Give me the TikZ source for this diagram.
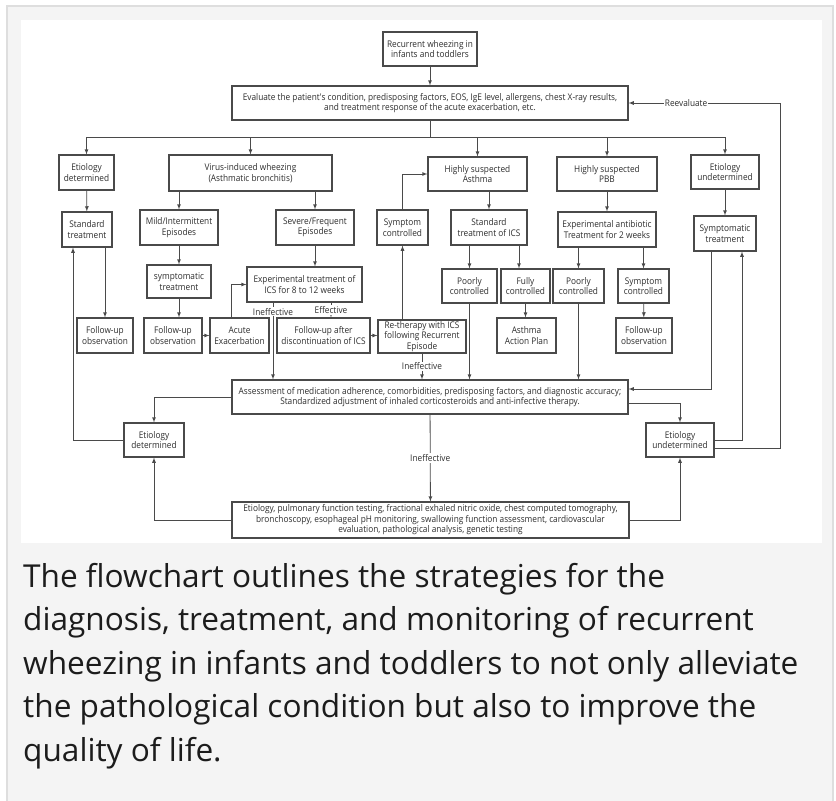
\documentclass[tikz,border=0pt]{standalone}
\usepackage{fontspec}
\setmainfont{Open Sans}
\newfontfamily\chartfont[FakeStretch=0.9]{Open Sans}
\definecolor{pagegray}{HTML}{F4F4F4}
\definecolor{rulegray}{HTML}{DEDEDE}
\definecolor{inkgray}{HTML}{4A4A4A}
\definecolor{txtgray}{HTML}{2E2E2E}
\definecolor{captxt}{HTML}{1C1C1C}
\tikzset{
  box/.style={draw=inkgray, line width=1.1pt, align=center, inner sep=1pt, text=txtgray, font=\chartfont\fontsize{9.2}{10.5}\selectfont},
  sz/.style 2 args={minimum width=#1pt, minimum height=#2pt},
  lbl/.style={fill=white, inner sep=1pt, text=txtgray, font=\chartfont\fontsize{9.2}{10.5}\selectfont},
  link/.style={inkgray, line width=0.8pt}
}
\begin{document}
\begin{tikzpicture}[x=1pt,y=-1pt]
\useasboundingbox (0,0) rectangle (836,801);
\fill [white] (0,0) rectangle (836,801);
\fill [pagegray] (7,6) rectangle (833,801);
\draw [rulegray, line width=2pt] (7,801) -- (7,6) -- (833,6) -- (833,801);
\fill [white] (21,20) rectangle (822,543);

\node [box, sz={94}{34}, line width=1.8pt] (rec) at (430,49) {Recurrent wheezing in\\infants and toddlers};
\node [box, sz={396}{34}] (eval) at (430,103) {Evaluate the patient's condition, predisposing factors, EOS, IgE level, allergens, chest X-ray results,\\and treatment response of the acute exacerbation, etc.};

\node [box, sz={55}{35}] (etd1) at (86.5,172.5) {Etiology\\determined};
\node [box, sz={163}{36}] (virus) at (250.5,173) {Virus-induced wheezing\\(Asthmatic bronchitis)};
\node [box, sz={99}{34}] (asth) at (477.5,174) {Highly suspected\\Asthma};
\node [box, sz={100}{34}] (pbb) at (607,174) {Highly suspected\\PBB};
\node [box, sz={68}{34}] (etu1) at (725,172) {Etiology\\undetermined};

\node [box, sz={50}{35}] (std) at (87,229.5) {Standard\\treatment};
\node [box, sz={78}{35}] (mild) at (179,227.5) {Mild/Intermittent\\Episodes};
\node [box, sz={78}{35}] (sev) at (315,227.5) {Severe/Frequent\\Episodes};
\node [box, sz={51}{35}] (symc1) at (402.5,227.5) {Symptom\\controlled};
\node [box, sz={76}{35}] (stdics) at (489,227.5) {Standard\\treatment of ICS};
\node [box, sz={98}{35}] (anti) at (607,229.5) {Experimental antibiotic\\Treatment for 2 weeks};
\node [box, sz={62}{35}] (symt) at (725,233.5) {Symptomatic\\treatment};

\node [box, sz={64}{33}] (symp) at (179,281.5) {symptomatic\\treatment};
\node [box, sz={115}{35}] (expics) at (304.5,284.5) {Experimental treatment of\\ICS for 8 to 12 weeks};
\node [box, sz={55}{34}] (poor1) at (469.5,286) {Poorly\\controlled};
\node [box, sz={49}{34}] (full) at (525.5,286) {Fully\\controlled};
\node [box, sz={51}{34}] (poor2) at (578.5,286) {Poorly\\controlled};
\node [box, sz={51}{34}] (symc2) at (643.5,286) {Symptom\\controlled};

\node [box, sz={56}{35}] (fu1) at (105,335.5) {Follow-up\\observation};
\node [box, sz={58}{35}] (fu2) at (173,335.5) {Follow-up\\observation};
\node [box, sz={59}{35}] (acute) at (239.5,335.5) {Acute\\Exacerbation};
\node [box, sz={93}{35}] (fuafter) at (323.5,335.5) {Follow-up after\\discontinuation of ICS};
\node [box, sz={88}{33}] (rether) at (422,336.5) {Re-therapy with ICS\\following Recurrent\\Episode};
\node [box, sz={59}{35}] (aap) at (526.5,335.5) {Asthma\\Action Plan};
\node [box, sz={56}{35}] (fu3) at (644,335.5) {Follow-up\\observation};

\node [box, sz={396}{34}] (assess) at (430,397) {Assessment of medication adherence, comorbidities, predisposing factors, and diagnostic accuracy;\\Standardized adjustment of inhaled corticosteroids and anti-infective therapy.};
\node [box, sz={60}{34}] (etd2) at (154,440) {Etiology\\determined};
\node [box, sz={68}{34}] (etu2) at (680,440) {Etiology\\undetermined};
\node [box, sz={397}{36}] (final) at (430.5,520) {Etiology, pulmonary function testing, fractional exhaled nitric oxide, chest computed tomography,\\bronchoscopy, esophageal pH monitoring, swallowing function assessment, cardiovascular\\evaluation, pathological analysis, genetic testing};

\coordinate (bar) at (430,137);
\coordinate (k1) at (231,284);
\coordinate (k2) at (273,0);
\coordinate (k3) at (331,0);
\coordinate (k4) at (519,0);
\coordinate (k5) at (711,389);
\coordinate (k6) at (0,403);
\coordinate (k7) at (73,0);
\coordinate (k8) at (742,0);
\coordinate (k9) at (780,448);

\draw [link,-latex] (rec) -- (eval);
\draw [link] (eval.south) -- (bar);
\draw [link] (bar -| etd1) -- (bar -| etu1);
\foreach \n in {etd1,virus,asth,pbb,etu1}
  \draw [link,-latex] (bar -| \n) -- (\n.north);

\draw [link,-latex] (etd1) -- (std);
\draw [link,-latex] (std.south -| fu1) -- (fu1.north);
\draw [link,-latex] (virus.south -| mild) -- (mild.north);
\draw [link,-latex] (virus.south -| sev) -- (sev.north);
\draw [link,-latex] (mild) -- (symp);
\draw [link,-latex] (symp.south) -- (symp.south |- fu2.north);
\draw [link,-latex] (fu2) -- (acute);
\draw [link,-latex] (acute.north -| k1) |- (expics.west);
\draw [link,-latex] (sev.south) -- (sev.south |- expics.north);
\draw [link,-latex] (expics.south -| k2) -- node [lbl, pos=0.12] {Ineffective} (assess.north -| k2);
\draw [link,-latex] (expics.south -| k3) -- node [lbl] {Effective} (fuafter.north -| k3);
\draw [link,-latex] (fuafter.east) -- (fuafter.east -| rether.west);
\draw [link,-latex] (rether.north -| symc1) -- (symc1.south);
\draw [link,-latex] (symc1.north) |- (asth.west);
\draw [link,-latex] (rether.south) -- node [lbl] {Ineffective} (rether.south |- assess.north);

\draw [link,-latex] (asth.south -| stdics) -- (stdics.north);
\draw [link,-latex] (stdics.south -| poor1) -- (poor1.north);
\draw [link,-latex] (stdics.south -| k4) -- (full.north -| k4);
\draw [link,-latex] (poor1.south) -- (poor1.south |- assess.north);
\draw [link,-latex] (full.south) -- (full.south |- aap.north);
\draw [link,-latex] (pbb) -- (anti);
\draw [link,-latex] (anti.south -| poor2) -- (poor2.north);
\draw [link,-latex] (anti.south -| symc2) -- (symc2.north);
\draw [link,-latex] (poor2.south) -- (poor2.south |- assess.north);
\draw [link,-latex] (symc2) -- (fu3);
\draw [link,-latex] (etu1) -- (symt);

\draw [link,-latex] (symt.south -| k5) |- (assess.east |- k5);
\draw [link,-latex] (assess.west) -| (etd2.north);
\draw [link,-latex] (assess.east |- k6) -| (etu2.north);
\draw [link,-latex] (etd2.west) -| (std.south -| k7);
\draw [link,-latex] (etu2.east) -| (symt.south -| k8);
\draw [link,-latex] (etu2.east |- k9) -| (k9 |- eval.east) -- node [lbl, pos=0.62] {Reevaluate} (eval.east);
\draw [link,-latex] (assess) -- node [lbl] {Ineffective} (final);
\draw [link,-latex] (final.west) -| (etd2.south);
\draw [link,-latex] (final.east) -| (etu2.south);

\node [anchor=base west, align=left, inner sep=0pt, text=captxt, font=\fontsize{31.6}{43.5}\selectfont] (caption) at (23,761) {The flowchart outlines the strategies for the\\diagnosis, treatment, and monitoring of recurrent\\wheezing in infants and toddlers to not only alleviate\\the pathological condition but also to improve the\\quality of life.};
\end{tikzpicture}
\end{document}
